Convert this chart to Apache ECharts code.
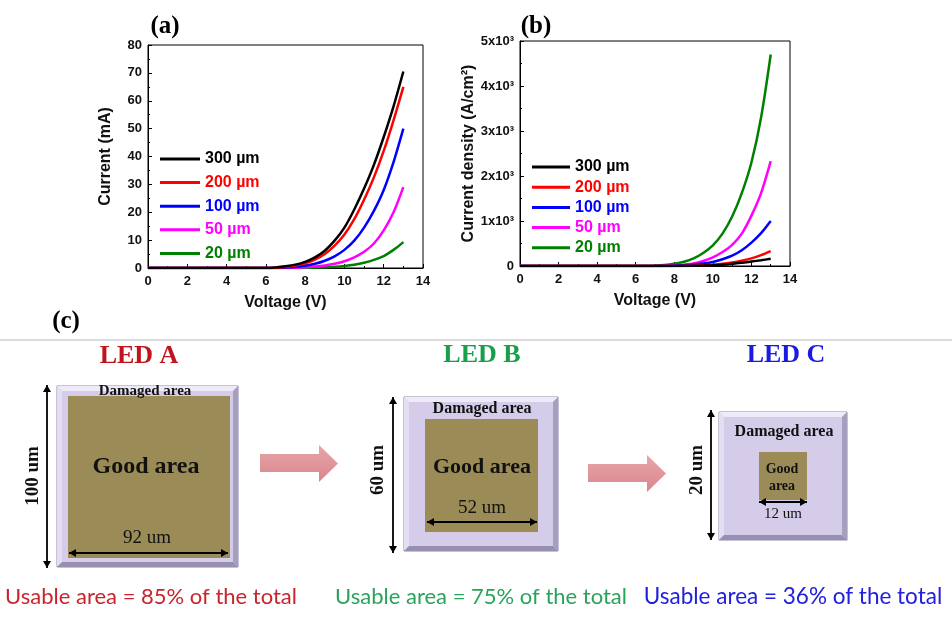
<!DOCTYPE html>
<html>
<head>
<meta charset="utf-8">
<script src="https://cdn.jsdelivr.net/npm/echarts@6/dist/echarts.min.js"></script>
<style>
  html, body { margin: 0; padding: 0; background: #fff; }
  #chart { width: 952px; height: 617px; }
</style>
</head>
<body>
<div id="chart"></div>
<script>
// voltages (V) shared by both panels
const voltage = [0, 1, 2, 3, 4, 5, 6, 6.5, 7, 7.5, 8, 8.5, 9, 9.5, 10, 10.5, 11, 11.5, 12, 12.5, 13];

// panel (a): current (mA)
const cur300 = [0, 0, 0, 0, 0, 0, 0, 0.2, 0.6, 1.2, 2.2, 3.8, 6.2, 9.8, 14.5, 21, 28.5, 37, 47, 58, 70.5];
const cur200 = [0, 0, 0, 0, 0, 0, 0, 0.1, 0.4, 0.9, 1.7, 3, 5, 8, 12, 17.5, 24.5, 32.5, 42, 53, 65];
const cur100 = [0, 0, 0, 0, 0, 0, 0, 0, 0.15, 0.4, 0.8, 1.5, 2.6, 4.2, 6.5, 9.8, 14.5, 20.5, 28, 38, 50];
const cur50 = [0, 0, 0, 0, 0, 0, 0, 0, 0, 0.1, 0.25, 0.5, 0.9, 1.5, 2.4, 3.8, 5.8, 8.8, 13.5, 20, 29];
const cur20 = [0, 0, 0, 0, 0, 0, 0, 0, 0, 0, 0.05, 0.15, 0.25, 0.45, 0.75, 1.2, 1.9, 2.9, 4.3, 6.5, 9.3];

// panel (b): current density (A/cm2)
const den300 = [0, 0, 0, 0, 0, 0, 0, 0, 0, 0, 0, 1, 4, 9, 18, 30, 50, 72, 100, 128, 160];
const den200 = [0, 0, 0, 0, 0, 0, 0, 0, 0, 0, 1, 3, 8, 16, 30, 50, 80, 120, 170, 240, 330];
const den100 = [0, 0, 0, 0, 0, 0, 0, 0, 0, 0, 5, 15, 30, 55, 90, 150, 230, 350, 520, 730, 1000];
const den50 = [0, 0, 0, 0, 0, 0, 0, 0, 0, 5, 15, 30, 55, 110, 190, 310, 470, 720, 1120, 1620, 2330];
const den20 = [0, 0, 0, 0, 0, 0, 0, 0, 5, 20, 50, 95, 170, 290, 460, 720, 1100, 1620, 2300, 3300, 4700];

const sizes = ['300 µm', '200 µm', '100 µm', '50 µm', '20 µm'];
const colors = ['#000000', '#ff0000', '#0000ff', '#ff00ff', '#008000'];
const densityTicks = ['0', '1x10³', '2x10³', '3x10³', '4x10³', '5x10³'];

// panel (c) labels
const ledNames = ['LED A', 'LED B', 'LED C'];
const ledColors = ['#c0141c', '#16a04a', '#1a1ae0'];
const usableText = ['Usable area = 85% of the total', 'Usable area = 75% of the total', 'Usable area = 36% of the total'];
const usableColors = ['#c8242c', '#2aa35a', '#2020dd'];
const sideLabels = ['100 um', '60 um', '20 um'];
const widthLabels = ['92 um', '52 um', '12 um'];

const AR = 'Liberation Sans, Arial, sans-serif';
const TNR = 'Liberation Serif, Times New Roman, serif';

const pairs = (ys) => voltage.map((v, i) => [v, ys[i]]);

function makeSeries(sets, idx) {
  return sets.map((ys, i) => ({
    name: sizes[i],
    type: 'line',
    xAxisIndex: idx,
    yAxisIndex: idx,
    data: pairs(ys),
    smooth: 0.3,
    symbol: 'none',
    lineStyle: { color: colors[i], width: 2.5 },
    itemStyle: { color: colors[i] },
    z: 10 - i
  }));
}

function xAxisCfg(gridIndex) {
  return {
    gridIndex, type: 'value', min: 0, max: 14, interval: 2,
    name: 'Voltage (V)', nameLocation: 'middle', nameGap: 27,
    nameTextStyle: { fontFamily: AR, fontWeight: 'bold', fontSize: 16, color: '#111' },
    axisLine: { lineStyle: { color: '#000', width: 1 } },
    axisTick: { inside: true, length: 4, lineStyle: { color: '#000' } },
    minorTick: { show: true, splitNumber: 2, length: 2, lineStyle: { color: '#000' } },
    axisLabel: { fontFamily: AR, fontWeight: 'bold', fontSize: 13, color: '#111', margin: 7 },
    splitLine: { show: false }
  };
}

function yAxisCfg(gridIndex, max, interval, name, gap, fmt) {
  return {
    gridIndex, type: 'value', min: 0, max, interval,
    name, nameLocation: 'middle', nameGap: gap,
    nameTextStyle: { fontFamily: AR, fontWeight: 'bold', fontSize: 16, color: '#111' },
    axisLine: { show: true, lineStyle: { color: '#000', width: 1 } },
    axisTick: { show: true, inside: true, length: 4, lineStyle: { color: '#000' } },
    minorTick: { show: true, splitNumber: 2, length: 2, lineStyle: { color: '#000' } },
    axisLabel: { fontFamily: AR, fontWeight: 'bold', fontSize: 13, color: '#111', margin: 6, formatter: fmt },
    splitLine: { show: false }
  };
}

function legendCfg(left, top, gap, w) {
  return {
    left, top, orient: 'vertical', itemWidth: w, itemHeight: 3, itemGap: gap,
    icon: 'rect', selectedMode: false,
    data: sizes.map((n, i) => ({
      name: n,
      itemStyle: { color: colors[i] },
      textStyle: { color: colors[i] }
    })),
    textStyle: { fontFamily: AR, fontWeight: 'bold', fontSize: 16, lineHeight: 16 }
  };
}

// ---- schematic drawing helpers for panel (c) ----
function chip(x, y, s, gx, gy, gs) {
  const b = 5;
  return [
    { type: 'rect', shape: { x, y, width: s, height: s }, style: { fill: '#d4cce9', stroke: '#8f86a8', lineWidth: 1 } },
    { type: 'polygon', shape: { points: [[x, y], [x + s, y], [x + s - b, y + b], [x + b, y + b]] }, style: { fill: '#eeeaf8' } },
    { type: 'polygon', shape: { points: [[x, y], [x + b, y + b], [x + b, y + s - b], [x, y + s]] }, style: { fill: '#e3def2' } },
    { type: 'polygon', shape: { points: [[x + s, y], [x + s, y + s], [x + s - b, y + s - b], [x + s - b, y + b]] }, style: { fill: '#a79fc0' } },
    { type: 'polygon', shape: { points: [[x, y + s], [x + b, y + s - b], [x + s - b, y + s - b], [x + s, y + s]] }, style: { fill: '#9890b2' } },
    { type: 'rect', shape: { x: gx, y: gy, width: gs, height: gs }, style: { fill: '#9b8b57' } }
  ];
}

function dblArrow(x1, y1, x2, y2) {
  const h = 7, w = 4;
  const out = [{ type: 'line', shape: { x1, y1, x2, y2 }, style: { stroke: '#000', lineWidth: 1.8 } }];
  if (y1 === y2) {
    out.push({ type: 'polygon', shape: { points: [[x1, y1], [x1 + h, y1 - w], [x1 + h, y1 + w]] }, style: { fill: '#000' } });
    out.push({ type: 'polygon', shape: { points: [[x2, y2], [x2 - h, y2 - w], [x2 - h, y2 + w]] }, style: { fill: '#000' } });
  } else {
    out.push({ type: 'polygon', shape: { points: [[x1, y1], [x1 - w, y1 + h], [x1 + w, y1 + h]] }, style: { fill: '#000' } });
    out.push({ type: 'polygon', shape: { points: [[x2, y2], [x2 - w, y2 - h], [x2 + w, y2 - h]] }, style: { fill: '#000' } });
  }
  return out;
}

function pinkArrow(x0, xh, xt, ys0, ys1, yh0, yh1) {
  const yc = (yh0 + yh1) / 2;
  return {
    type: 'polygon',
    shape: { points: [[x0, ys0], [xh, ys0], [xh, yh0], [xt, yc], [xh, yh1], [xh, ys1], [x0, ys1]] },
    style: {
      fill: new echarts.graphic.LinearGradient(0, 0, 0, 1, [
        { offset: 0, color: '#e7a6aa' },
        { offset: 1, color: '#d9868d' }
      ])
    }
  };
}

function txt(text, x, y, font, fill) {
  return {
    type: 'text', x, y,
    style: { text, font, fill, textAlign: 'center', textVerticalAlign: 'middle' }
  };
}

function vtxt(text, x, y, font) {
  return { type: 'text', x, y, rotation: Math.PI / 2,
    style: { text, font, fill: '#111', textAlign: 'center', textVerticalAlign: 'middle' } };
}

const schematic = [].concat(
  [{ type: 'line', shape: { x1: 0, y1: 340, x2: 952, y2: 340 }, style: { stroke: '#b8b8b8', lineWidth: 1 } }],
  [txt('(a)', 165, 27, 'bold 25px ' + TNR, '#000')],
  [txt('(b)', 536, 27, 'bold 25px ' + TNR, '#000')],
  [txt('(c)', 66, 322, 'bold 25px ' + TNR, '#000')],

  // LED A
  [txt(ledNames[0], 139, 356, 'bold 26px ' + TNR, ledColors[0])],
  chip(57, 386, 181, 68, 396, 162),
  [txt('Damaged area', 145, 391, 'bold 15px ' + TNR, '#111')],
  [txt('Good area', 146, 467, 'bold 24px ' + TNR, '#111')],
  [txt(widthLabels[0], 147, 538, '19px ' + TNR, '#111')],
  dblArrow(69, 553, 228, 553),
  dblArrow(47, 385, 47, 568),
  [vtxt(sideLabels[0], 33, 476, 'bold 19px ' + TNR)],
  [txt(usableText[0], 151, 597, '22px Lato, ' + AR, usableColors[0])],

  pinkArrow(260, 319, 338, 454, 472, 445, 482),

  // LED B
  [txt(ledNames[1], 482, 355, 'bold 26px ' + TNR, ledColors[1])],
  chip(404, 397, 154, 425, 419, 113),
  [txt('Damaged area', 482, 409, 'bold 16px ' + TNR, '#111')],
  [txt('Good area', 482, 467, 'bold 22px ' + TNR, '#111')],
  [txt(widthLabels[1], 482, 508, '19px ' + TNR, '#111')],
  dblArrow(427, 522, 537, 522),
  dblArrow(393, 397, 393, 553),
  [vtxt(sideLabels[1], 378, 470, 'bold 19px ' + TNR)],
  [txt(usableText[1], 481, 597, '22px Lato, ' + AR, usableColors[1])],

  pinkArrow(588, 647, 666, 464, 482, 455, 492),

  // LED C
  [txt(ledNames[2], 786, 355, 'bold 26px ' + TNR, ledColors[2])],
  chip(719, 412, 128, 759, 452, 48),
  [txt('Damaged area', 784, 432, 'bold 16px ' + TNR, '#111')],
  [txt('Good', 782, 469, 'bold 14px ' + TNR, '#111')],
  [txt('area', 782, 486, 'bold 14px ' + TNR, '#111')],
  dblArrow(759, 502, 807, 502),
  [txt(widthLabels[2], 783, 514, '15px ' + TNR, '#111')],
  dblArrow(711, 410, 711, 540),
  [vtxt(sideLabels[2], 697, 470, 'bold 19px ' + TNR)],
  [txt(usableText[2], 793, 597, '22.5px Lato, ' + AR, usableColors[2])]
);

const chart = echarts.init(document.getElementById('chart'), null, { renderer: 'canvas' });

const option = {
  backgroundColor: '#fff',
  animation: false,
  grid: [
    { left: 148, top: 45, width: 275, height: 223, show: true, borderColor: '#000', borderWidth: 1, backgroundColor: 'transparent' },
    { left: 520, top: 41, width: 270, height: 225, show: true, borderColor: '#000', borderWidth: 1, backgroundColor: 'transparent' }
  ],
  xAxis: [xAxisCfg(0), xAxisCfg(1)],
  yAxis: [
    yAxisCfg(0, 80, 10, 'Current (mA)', 34),
    yAxisCfg(1, 5000, 1000, 'Current density (A/cm²)', 41, (v) => densityTicks[Math.round(v / 1000)])
  ],
  legend: [legendCfg(155, 146, 7.6, 40), legendCfg(527, 154, 4.2, 38)],
  series: makeSeries([cur300, cur200, cur100, cur50, cur20], 0)
    .concat(makeSeries([den300, den200, den100, den50, den20], 1)),
  graphic: { elements: schematic }
};

chart.setOption(option);
</script>
</body>
</html>
